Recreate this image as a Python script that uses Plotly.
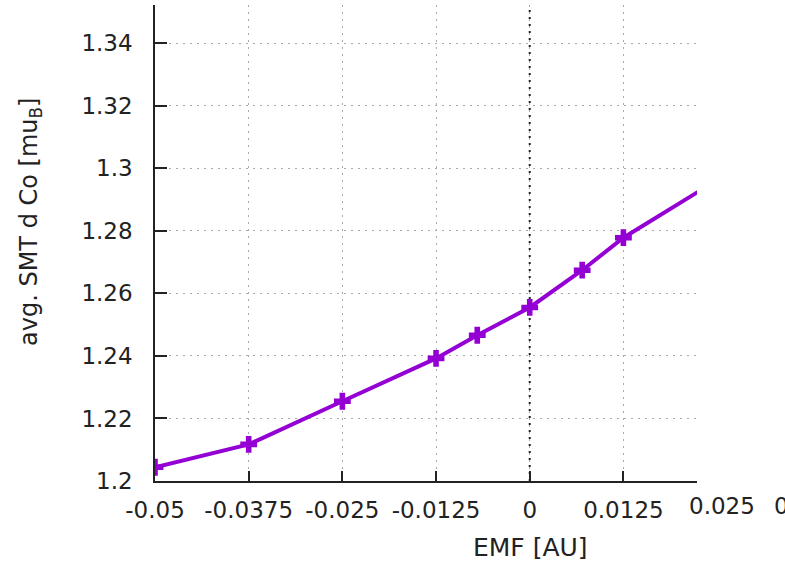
import plotly.graph_objects as go

emf = [-0.05, -0.0375, -0.025, -0.0125, -0.007, 0.0, 0.007, 0.0125, 0.025]
smt_d_co = [1.2044, 1.2117, 1.2255, 1.2392, 1.2466, 1.2555, 1.2674, 1.2778, 1.2962]

x_tickvals = [-0.05, -0.0375, -0.025, -0.0125, 0, 0.0125]
x_ticktext = ["-0.05", "-0.0375", "-0.025", "-0.0125", "0", "0.0125"]
y_tickvals = [1.2, 1.22, 1.24, 1.26, 1.28, 1.3, 1.32, 1.34]
y_ticktext = ["1.2", "1.22", "1.24", "1.26", "1.28", "1.3", "1.32", "1.34"]

W, H = 785, 565
L, R, T, B = 155, 88, 5, 84
pw, ph = W - L - R, H - T - B

def px(xp):
    return (xp - L) / pw

def py(yp):
    return (H - B - yp) / ph

FONT = "DejaVu Sans"
TXT = "#222222"
TICKSIZE = 23

fig = go.Figure()
fig.add_trace(go.Scatter(
    x=emf, y=smt_d_co, mode="lines+markers",
    line=dict(color="#9400D3", width=4),
    marker=dict(symbol="cross", size=14, color="#9400D3"),
    showlegend=False,
))

fig.add_shape(type="line", xref="x", yref="paper", x0=0, x1=0, y0=0, y1=1,
              line=dict(color="#222222", width=2, dash="2px,5px"), layer="below")

fig.update_layout(
    width=W, height=H,
    margin=dict(l=L, r=R, t=T, b=B),
    plot_bgcolor="white", paper_bgcolor="white",
    font=dict(family=FONT, size=TICKSIZE, color=TXT),
    xaxis=dict(
        range=[-0.05, 0.02232], tickvals=x_tickvals, ticktext=x_ticktext,
        tickangle=0,
        ticks="inside", ticklen=10, tickwidth=1.5, tickcolor="#222",
        showline=True, linecolor="#222", linewidth=1.5, mirror=False,
        showgrid=True, gridcolor="#aaaaaa", griddash="2px,5px", gridwidth=1.3,
        zeroline=False, ticklabelstandoff=8,
    ),
    yaxis=dict(
        range=[1.2, 1.3522], tickvals=y_tickvals, ticktext=y_ticktext,
        ticks="inside", ticklen=12, tickwidth=1.5, tickcolor="#222",
        showline=True, linecolor="#222", linewidth=1.5, mirror=False,
        showgrid=True, gridcolor="#aaaaaa", griddash="2px,5px", gridwidth=1.3,
        zeroline=False, ticklabelstandoff=16,
    ),
    annotations=[
        dict(text="0.025", xref="paper", yref="paper", x=px(722), y=0,
             xanchor="center", yanchor="top", yshift=-10, showarrow=False,
             font=dict(family=FONT, size=TICKSIZE, color=TXT)),
        dict(text="0.0375", xref="paper", yref="paper", x=px(772), y=0,
             xanchor="left", yanchor="top", yshift=-10, showarrow=False,
             font=dict(family=FONT, size=TICKSIZE, color=TXT)),
        dict(text="EMF [AU]", xref="paper", yref="paper", x=px(530), y=py(547),
             xanchor="center", yanchor="middle", showarrow=False,
             font=dict(family=FONT, size=25, color=TXT)),
        dict(text="avg. SMT d Co [mu<sub>B</sub>]", xref="paper", yref="paper",
             x=px(30), y=py(222), textangle=-90,
             xanchor="center", yanchor="middle", showarrow=False,
             font=dict(family=FONT, size=24, color=TXT)),
    ],
)

fig.write_html("out.html")
